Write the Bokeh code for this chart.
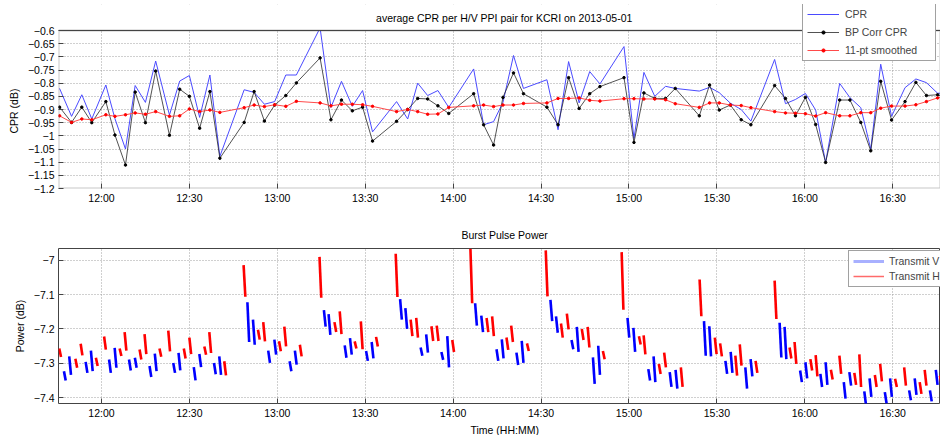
from bokeh.plotting import figure
from bokeh.models import (Range1d, FixedTicker, Legend, LegendItem, Title, Label,
                          BoxAnnotation, Span)
from bokeh.layouts import column
from bokeh.embed import file_html
from bokeh.resources import INLINE

FONT = "Liberation Sans"
FS = "10.5px"

# ---------------- data ----------------
time_tick_labels = ["12:00", "12:30", "13:00", "13:30", "14:00",
                    "14:30", "15:00", "15:30", "16:00", "16:30"]
cpr_ticks = [-1.2, -1.15, -1.1, -1.05, -1.0, -0.95, -0.9,
             -0.85, -0.8, -0.75, -0.7, -0.65, -0.6]
cpr_tick_labels = ["\u22121.2", "\u22121.15", "\u22121.1", "\u22121.05", "\u22121",
                   "\u22120.95", "\u22120.9", "\u22120.85", "\u22120.8", "\u22120.75",
                   "\u22120.7", "\u22120.65", "\u22120.6"]
power_ticks = [-7.4, -7.3, -7.2, -7.1, -7.0]
power_tick_labels = ["\u22127.4", "\u22127.3", "\u22127.2", "\u22127.1", "\u22127"]

# time in minutes after 00:00 on 2013-05-01
cpr_time = [705.7, 709.8, 713.3, 716.7, 721.5, 724.6, 728.2, 731.5, 735.0, 738.5,
            743.2, 746.7, 750.0, 753.5, 757.0, 760.4, 768.7, 772.1, 775.6, 779.1,
            782.9, 786.5, 794.6, 798.3, 801.9, 805.6, 809.1, 812.5, 820.7, 824.5,
            827.9, 831.3, 834.8, 838.5, 847.0, 850.4, 853.8, 857.0, 860.6, 864.0,
            872.0, 875.8, 879.4, 883.0, 886.6, 890.1, 898.3, 901.7, 905.1, 908.8,
            912.5, 915.8, 924.0, 927.5, 930.8, 934.6, 938.3, 941.6, 949.7, 953.4,
            956.8, 960.2, 963.7, 967.1, 971.9, 975.4, 979.1, 982.5, 985.9, 989.6,
            994.2, 997.9, 1001.5, 1005.3, 1008.8]
cpr_raw = [-0.820, -0.926, -0.844, -0.936, -0.807, -0.935, -1.050, -0.809, -0.873, -0.716,
           -0.921, -0.792, -0.771, -0.930, -0.769, -1.078, -0.825, -0.835, -0.880, -0.870,
           -0.769, -0.769, -0.590, -0.892, -0.793, -0.888, -0.828, -0.985, -0.870, -0.936,
           -0.800, -0.847, -0.828, -0.892, -0.746, -0.958, -0.946, -0.873, -0.695, -0.820,
           -0.787, -0.977, -0.718, -0.875, -0.756, -0.803, -0.661, -1.010, -0.759, -0.850,
           -0.812, -0.820, -0.830, -0.816, -0.836, -0.876, -0.900, -0.944, -0.710, -0.878,
           -0.862, -0.839, -0.902, -1.101, -0.801, -0.855, -0.893, -1.050, -0.728, -0.926,
           -0.817, -0.784, -0.798, -0.838, -0.840]
cpr_bp_corr = [-0.891, -0.949, -0.891, -0.950, -0.870, -0.997, -1.111, -0.834, -0.950, -0.754,
               -0.998, -0.823, -0.850, -0.971, -0.832, -1.085, -0.949, -0.832, -0.944, -0.883,
               -0.847, -0.799, -0.704, -0.939, -0.864, -0.905, -0.891, -1.020, -0.945, -0.900,
               -0.858, -0.860, -0.886, -0.915, -0.840, -0.958, -1.035, -0.854, -0.761, -0.840,
               -0.891, -0.958, -0.779, -0.896, -0.840, -0.813, -0.779, -1.025, -0.837, -0.858,
               -0.858, -0.820, -0.924, -0.807, -0.902, -0.883, -0.939, -0.958, -0.809, -0.858,
               -0.924, -0.854, -0.957, -1.101, -0.864, -0.864, -0.949, -1.057, -0.793, -0.940,
               -0.870, -0.797, -0.847, -0.844, -0.860]
cpr_smoothed = [-0.924, -0.949, -0.936, -0.939, -0.920, -0.926, -0.920, -0.913, -0.918, -0.908,
                -0.926, -0.924, -0.898, -0.908, -0.902, -0.911, -0.893, -0.883, -0.889, -0.882,
                -0.888, -0.869, -0.875, -0.886, -0.880, -0.880, -0.882, -0.888, -0.908, -0.900,
                -0.908, -0.918, -0.917, -0.892, -0.886, -0.883, -0.889, -0.883, -0.883, -0.877,
                -0.875, -0.858, -0.858, -0.856, -0.865, -0.868, -0.859, -0.859, -0.860, -0.860,
                -0.863, -0.878, -0.892, -0.875, -0.875, -0.883, -0.885, -0.893, -0.908, -0.913,
                -0.914, -0.916, -0.925, -0.912, -0.924, -0.924, -0.912, -0.912, -0.895, -0.887,
                -0.887, -0.882, -0.870, -0.856, -0.850]

# burst pulse power: each burst spans a power interval (top..bottom) at a time
tx_v_time = [707.2, 709.0, 714.6, 716.4, 722.6, 724.5, 729.4, 731.4, 736.4, 738.2,
             744.5, 746.3, 751.5, 753.4, 758.4, 760.2, 769.8, 771.7, 776.9, 779.0,
             784.2, 786.0, 795.9, 797.5, 803.0, 804.8, 810.3, 812.2, 821.9, 823.7,
             828.9, 830.8, 836.0, 838.0, 847.5, 849.6, 854.8, 856.6, 861.6, 863.4,
             873.2, 875.1, 880.4, 882.2, 887.7, 889.5, 899.5, 901.5, 906.6, 908.4,
             913.9, 915.9, 925.6, 927.4, 932.9, 934.7, 939.7, 941.5, 951.4, 953.1,
             958.4, 960.2, 965.3, 967.1, 973.3, 975.2, 980.3, 982.1, 987.3, 989.1,
             995.6, 997.5, 1002.7, 1004.7]
tx_v_top = [-7.323, -7.280, -7.296, -7.263, -7.289, -7.255, -7.289, -7.284, -7.308, -7.272,
            -7.299, -7.270, -7.311, -7.273, -7.299, -7.280, -7.122, -7.173, -7.263, -7.231,
            -7.294, -7.263, -7.145, -7.157, -7.248, -7.227, -7.264, -7.238, -7.113, -7.139,
            -7.254, -7.216, -7.267, -7.221, -7.125, -7.161, -7.259, -7.230, -7.269, -7.235,
            -7.115, -7.163, -7.232, -7.194, -7.283, -7.249, -7.168, -7.197, -7.317, -7.280,
            -7.326, -7.319, -7.177, -7.192, -7.293, -7.267, -7.312, -7.288, -7.182, -7.194,
            -7.321, -7.297, -7.331, -7.297, -7.355, -7.326, -7.382, -7.344, -7.384, -7.344,
            -7.379, -7.344, -7.379, -7.319]
tx_v_bottom = [-7.350, -7.334, -7.328, -7.323, -7.328, -7.313, -7.321, -7.313, -7.340, -7.323,
               -7.328, -7.321, -7.350, -7.311, -7.332, -7.334, -7.238, -7.246, -7.299, -7.275,
               -7.323, -7.304, -7.193, -7.217, -7.284, -7.275, -7.293, -7.286, -7.173, -7.200,
               -7.278, -7.269, -7.290, -7.312, -7.190, -7.209, -7.293, -7.286, -7.305, -7.299,
               -7.177, -7.211, -7.259, -7.267, -7.360, -7.334, -7.225, -7.267, -7.350, -7.355,
               -7.369, -7.374, -7.278, -7.280, -7.331, -7.328, -7.374, -7.338, -7.283, -7.288,
               -7.355, -7.344, -7.369, -7.363, -7.403, -7.365, -7.422, -7.398, -7.417, -7.398,
               -7.408, -7.392, -7.411, -7.363]
tx_h_time = [705.6, 711.1, 712.9, 718.1, 720.9, 726.2, 727.9, 733.0, 734.7, 739.8,
             742.8, 748.1, 750.0, 755.1, 756.8, 761.9, 768.5, 773.4, 775.2, 780.6,
             782.4, 787.7, 794.4, 799.5, 801.3, 806.4, 808.5, 813.7, 820.4, 825.5,
             827.4, 832.6, 834.4, 839.7, 845.9, 851.4, 853.3, 858.2, 859.8, 865.2,
             871.6, 876.8, 878.8, 883.9, 885.9, 891.1, 897.5, 903.4, 905.0, 910.2,
             912.0, 917.7, 924.1, 929.3, 931.1, 936.3, 937.8, 943.2, 949.7, 954.8,
             956.5, 961.9, 963.7, 968.9, 971.8, 976.9, 978.6, 983.9, 985.7, 990.8,
             993.9, 999.2, 1000.9, 1006.1]
tx_h_top = [-7.257, -7.287, -7.243, -7.284, -7.222, -7.257, -7.209, -7.260, -7.215, -7.257,
            -7.205, -7.257, -7.225, -7.251, -7.209, -7.294, -7.014, -7.202, -7.180, -7.236,
            -7.193, -7.246, -6.990, -7.180, -7.149, -7.236, -7.178, -7.223, -6.981, -7.173,
            -7.168, -7.192, -7.190, -7.232, -6.966, -7.168, -7.163, -7.225, -7.190, -7.242,
            -6.971, -7.184, -7.155, -7.200, -7.194, -7.264, -6.976, -7.221, -7.219, -7.302,
            -7.269, -7.312, -7.056, -7.225, -7.242, -7.278, -7.245, -7.293, -7.059, -7.254,
            -7.238, -7.288, -7.276, -7.319, -7.278, -7.328, -7.274, -7.334, -7.302, -7.345,
            -7.312, -7.355, -7.319, -7.336]
tx_h_bottom = [-7.282, -7.313, -7.277, -7.308, -7.260, -7.279, -7.263, -7.289, -7.273, -7.281,
               -7.265, -7.286, -7.273, -7.275, -7.270, -7.335, -7.106, -7.231, -7.236, -7.265,
               -7.251, -7.280, -7.109, -7.209, -7.215, -7.257, -7.259, -7.251, -7.107, -7.221,
               -7.225, -7.235, -7.235, -7.267, -7.125, -7.209, -7.221, -7.261, -7.238, -7.264,
               -7.105, -7.225, -7.201, -7.232, -7.254, -7.288, -7.144, -7.245, -7.274, -7.331,
               -7.312, -7.369, -7.163, -7.273, -7.280, -7.336, -7.307, -7.328, -7.171, -7.286,
               -7.302, -7.321, -7.338, -7.347, -7.331, -7.363, -7.369, -7.369, -7.353, -7.369,
               -7.365, -7.389, -7.365, -7.360]

# --------------- layout constants ---------------
x_ticks = [int(s.split(":")[0]) * 60 + int(s.split(":")[1]) for s in time_tick_labels]
X_START, X_END = 705.34, 1006.3
CPR_MIN, CPR_MAX = -1.2, -0.6
PW_MIN, PW_MAX = -7.4172, -6.9655
TOP_FRAME_PX = 158          # visible axes box height of the CPR panel
TOP_HEADROOM_PX = 26        # space above the box (title + legend) kept inside the frame
SLANT = 0.6                 # each burst is drawn as a slightly slanted stroke
NAN = float("nan")
GRID = "#a0a0a0"
EDGE = "#444444"


def style_axes(p, yticks, ylabels):
    p.background_fill_color = "white"
    p.border_fill_color = "white"
    p.xaxis.ticker = FixedTicker(ticks=x_ticks)
    p.xaxis.major_label_overrides = dict(zip(x_ticks, time_tick_labels))
    p.yaxis.ticker = FixedTicker(ticks=yticks)
    p.yaxis.major_label_overrides = dict(zip(yticks, ylabels))
    for ax in (p.xaxis[0], p.yaxis[0]):
        ax.axis_line_color = None
        ax.major_tick_in = 5
        ax.major_tick_out = 0
        ax.major_tick_line_color = EDGE
        ax.minor_tick_line_color = None
        ax.major_label_text_font = FONT
        ax.major_label_text_font_size = FS
        ax.major_label_text_color = "black"
        ax.axis_label_text_font = FONT
        ax.axis_label_text_font_size = FS
        ax.axis_label_text_font_style = "normal"
        ax.axis_label_text_color = "black"
    p.xaxis.major_label_standoff = 3
    p.yaxis.major_label_standoff = 4
    p.grid.grid_line_color = GRID
    p.grid.grid_line_dash = "1 2"
    p.grid.grid_line_width = 1


def text_title(text, side_offset, standoff, valign="bottom"):
    return Title(text=text, align="left", offset=side_offset, standoff=standoff,
                 vertical_align=valign, text_font=FONT, text_font_size=FS,
                 text_font_style="normal", text_color="black")


# --------------- top: CPR ---------------
cpr_top_ext = CPR_MAX + (CPR_MAX - CPR_MIN) * TOP_HEADROOM_PX / TOP_FRAME_PX
p1 = figure(width=940, height=218, x_range=Range1d(X_START, X_END),
            y_range=Range1d(CPR_MIN, cpr_top_ext),
            output_backend="svg", toolbar_location=None,
            min_border_left=57, min_border_right=0,
            min_border_top=30 - TOP_HEADROOM_PX, min_border_bottom=30)
style_axes(p1, cpr_ticks, cpr_tick_labels)
p1.outline_line_color = None
p1.add_layout(text_title("CPR (dB)", 55, 10), "left")

r_raw = p1.line(cpr_time, cpr_raw, line_color="#4a4aff", line_width=1)
r_bp_l = p1.line(cpr_time, cpr_bp_corr, line_color="#262626", line_width=0.8)
r_bp_m = p1.scatter(cpr_time, cpr_bp_corr, size=2.5, color="black")
r_sm_l = p1.line(cpr_time, cpr_smoothed, line_color="#ff4a4a", line_width=1)
r_sm_m = p1.scatter(cpr_time, cpr_smoothed, size=2.5, color="#ff0000")

# white area above the axes box (holds title and the legend, like the original)
p1.add_layout(BoxAnnotation(bottom=CPR_MAX, fill_color="white", fill_alpha=1,
                            line_color=None))
# axes box
p1.add_layout(BoxAnnotation(left=X_START, right=X_END, bottom=CPR_MIN, top=CPR_MAX,
                            fill_alpha=0, line_color=EDGE, line_width=2))
p1.add_layout(Span(location=CPR_MAX, dimension="width", line_color=EDGE, line_width=1))
p1.add_layout(Label(x=445.7, y=171, x_units="screen", y_units="screen",
                    text="average CPR per H/V PPI pair for KCRI on 2013-05-01",
                    text_font=FONT, text_font_size=FS, text_color="black",
                    text_align="center", text_baseline="middle"))

leg1 = Legend(items=[LegendItem(label="CPR", renderers=[r_raw]),
                     LegendItem(label="BP Corr CPR", renderers=[r_bp_l, r_bp_m]),
                     LegendItem(label="11-pt smoothed", renderers=[r_sm_l, r_sm_m])],
              location=(744, 127), orientation="vertical",
              glyph_width=32, glyph_height=8, label_height=8, label_width=86,
              spacing=6, padding=4, label_standoff=6, margin=0,
              label_text_font=FONT, label_text_font_size=FS,
              border_line_color=EDGE, border_line_width=1,
              background_fill_color="white", background_fill_alpha=1)
p1.add_layout(leg1, "center")

# --------------- bottom: burst pulse power ---------------
p2 = figure(width=940, height=217, x_range=Range1d(X_START, X_END),
            y_range=Range1d(PW_MIN, PW_MAX),
            output_backend="svg", toolbar_location=None,
            min_border_left=57, min_border_right=0,
            min_border_top=30, min_border_bottom=30)
style_axes(p2, power_ticks, power_tick_labels)
p2.outline_line_color = EDGE
p2.outline_line_width = 1
p2.yaxis.axis_label = "Power (dB)"
p2.yaxis.axis_label_standoff = 5
p2.title = text_title("Burst Pulse Power", 403, 15)
p2.add_layout(text_title("Time (HH:MM)", 412, 0), "below")

p2.segment(x0=tx_v_time, y0=tx_v_top, x1=[t + SLANT for t in tx_v_time], y1=tx_v_bottom,
           line_color="#0000ff", line_width=2.6, line_cap="butt")
p2.segment(x0=tx_h_time, y0=tx_h_top, x1=[t + SLANT for t in tx_h_time], y1=tx_h_bottom,
           line_color="#ff0000", line_width=2.6, line_cap="butt")
leg_v = p2.line([X_START], [NAN], line_color="#a8b0ff", line_width=3)
leg_h = p2.line([X_START], [NAN], line_color="#ff6a6a", line_width=1.5)

leg2 = Legend(items=[LegendItem(label="Transmit V", renderers=[leg_v]),
                     LegendItem(label="Transmit H", renderers=[leg_h])],
              location=(790, 116), orientation="vertical",
              glyph_width=31, glyph_height=8, label_height=8,
              spacing=3, padding=4, label_standoff=5, margin=0,
              label_text_font=FONT, label_text_font_size=FS,
              border_line_color=EDGE, border_line_width=1,
              background_fill_color="white", background_fill_alpha=1)
p2.add_layout(leg2, "center")

layout = column(p1, p2, spacing=0)
open("out.html", "w").write(file_html(layout, INLINE))
